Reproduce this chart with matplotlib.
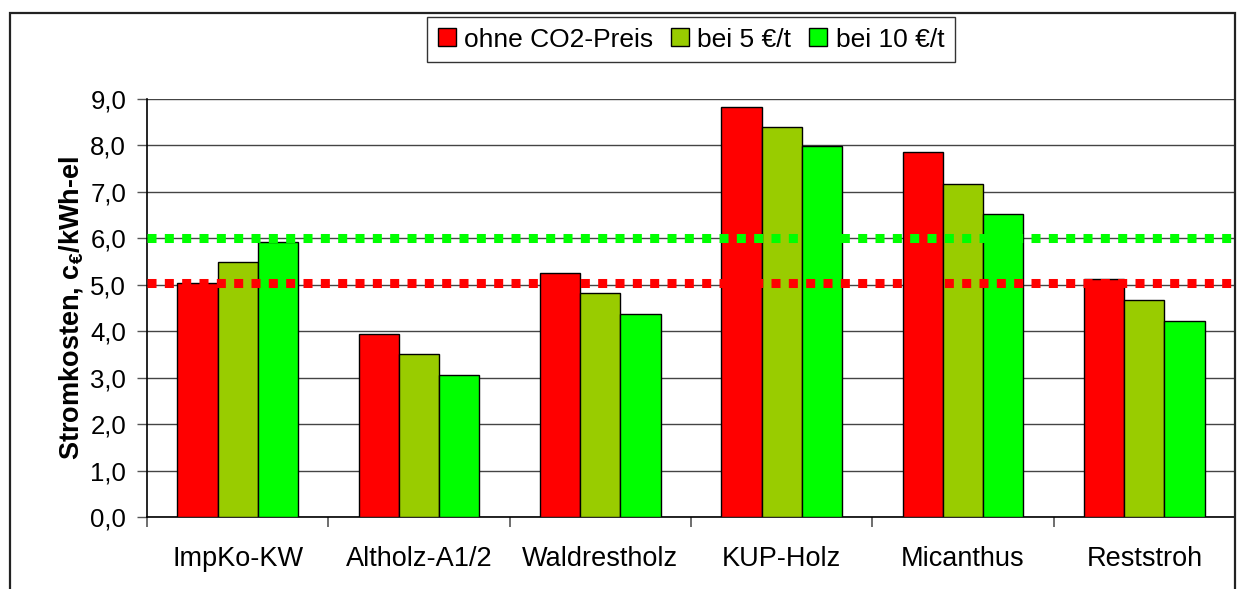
import numpy as np
import matplotlib
matplotlib.use("Agg")
import matplotlib.pyplot as plt
from matplotlib.patches import Rectangle
from matplotlib.ticker import FuncFormatter, FixedLocator

plt.rcParams['font.family'] = ['Liberation Sans', 'DejaVu Sans']
plt.rcParams['mathtext.fontset'] = 'custom'
plt.rcParams['mathtext.rm'] = 'Liberation Sans'
plt.rcParams['mathtext.bf'] = 'Liberation Sans:bold'

# data
categories = ['ImpKo-KW', 'Altholz-A1/2', 'Waldrestholz', 'KUP-Holz', 'Micanthus', 'Reststroh']
series_names = ['ohne CO2-Preis', 'bei 5 €/t', 'bei 10 €/t']
ohne_co2 = [5.03, 3.93, 5.25, 8.82, 7.85, 5.12]
bei_5 = [5.48, 3.50, 4.82, 8.40, 7.18, 4.68]
bei_10 = [5.93, 3.05, 4.38, 7.99, 6.53, 4.22]
ref_red = 5.03
ref_green = 6.0

colors = ['#FF0000', '#99CC00', '#00FF00']

fig = plt.figure(figsize=(12.37, 5.89), dpi=100)
ax = fig.add_axes([147 / 1237, 1 - 517 / 589, (1235 - 147) / 1237, (517 - 99) / 589])

x = np.arange(len(categories))
w = 0.222
for i, (vals, c) in enumerate(zip([ohne_co2, bei_5, bei_10], colors)):
    ax.bar(x + (i - 1) * w, vals, width=w, color=c, edgecolor='black',
           linewidth=1, label=series_names[i], zorder=3)

# reference lines (dotted squares)
for yv, c in [(ref_red, '#FF0000'), (ref_green, '#00FF00')]:
    ax.axhline(yv, color=c, linewidth=6.5, linestyle=(0, (1, 0.92)),
               dash_capstyle='butt', zorder=4)

ax.set_xlim(-0.5, len(categories) - 0.5)
ax.set_ylim(0, 9)
ax.set_yticks(np.arange(0, 9.5, 1))
ax.yaxis.set_major_formatter(FuncFormatter(lambda v, p: f"{v:.1f}".replace('.', ',')))
ax.grid(axis='y', color='#444444', linewidth=1, zorder=0)

ax.set_xticks(x)
ax.set_xticklabels(categories)
ax.xaxis.set_minor_locator(FixedLocator(np.arange(-0.5, len(categories), 1)))
ax.tick_params(axis='x', which='major', length=0, pad=21, labelsize=19.5)
ax.tick_params(axis='x', which='minor', length=7, width=1.2, color='#555555')
ax.tick_params(axis='y', length=7, width=1, color='#555555', labelsize=18.5, pad=8)

for s in ['top', 'right']:
    ax.spines[s].set_visible(False)
ax.spines['left'].set_linewidth(1.2)
ax.spines['bottom'].set_linewidth(1.2)

ax.set_ylabel(r"Stromkosten, c$_\mathbf{€}$/kWh-el", fontsize=19.5, fontweight='bold', labelpad=4)

leg = fig.legend(loc='upper center', bbox_to_anchor=(691 / 1237, 1 - 17 / 589), ncol=3,
                 fontsize=19, frameon=True, fancybox=False, edgecolor='black',
                 handlelength=0.68, handleheight=0.68, handletextpad=0.32,
                 columnspacing=0.68, borderpad=0.4, borderaxespad=0)
leg.get_frame().set_linewidth(1.0)

# outer chart frame
fig.patches.append(Rectangle((10 / 1237, -0.05), (1235 - 10) / 1237, 1 - 13 / 589 + 0.05,
                             transform=fig.transFigure, fill=False,
                             edgecolor='#222222', linewidth=1.6))

fig.savefig('out.png', dpi=100)
